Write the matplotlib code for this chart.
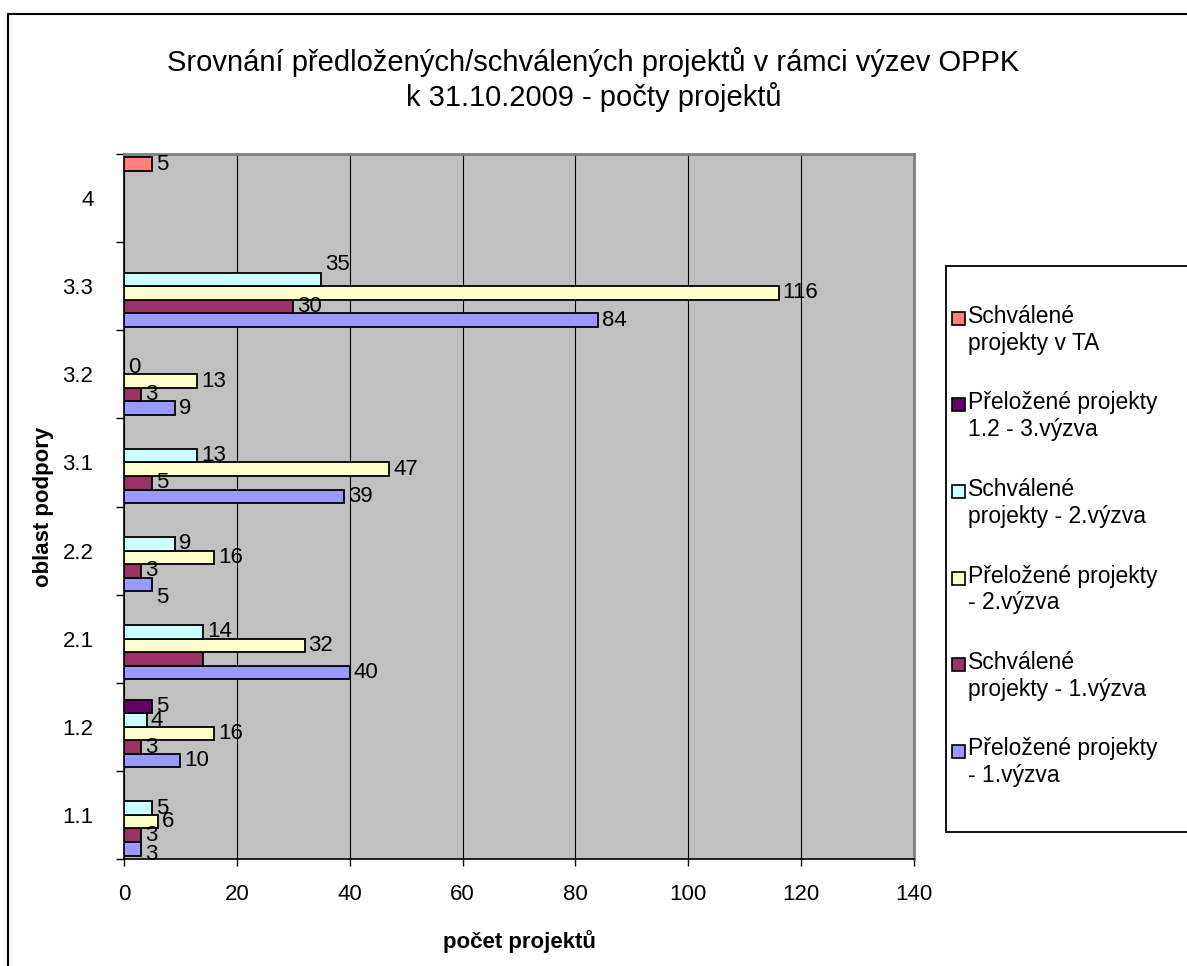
import matplotlib
matplotlib.use('Agg')
import matplotlib.pyplot as plt
from matplotlib.patches import Rectangle

plt.rcParams['font.family'] = ['Liberation Sans', 'DejaVu Sans']

########## data ################################################################

oblasti = ['1.1', '1.2', '2.1', '2.2', '3.1', '3.2', '3.3', '4']

predlozene_1 = [3, 10, 40, 5, 39, 9, 84, None]
schvalene_1 = [3, 3, 14, 3, 5, 3, 30, None]
predlozene_2 = [6, 16, 32, 16, 47, 13, 116, None]
schvalene_2 = [5, 4, 14, 9, 13, 0, 35, None]
predlozene_3 = [None, 5, None, None, None, None, None, None]
schvalene_ta = [None, None, None, None, None, None, None, 5]

rady = [predlozene_1, schvalene_1, predlozene_2, schvalene_2, predlozene_3, schvalene_ta]
nazvy = ['Přeložené projekty\n- 1.výzva',
         'Schválené\nprojekty - 1.výzva',
         'Přeložené projekty\n- 2.výzva',
         'Schválené\nprojekty - 2.výzva',
         'Přeložené projekty\n1.2 - 3.výzva',
         'Schválené\nprojekty v TA']
barvy = ['#9999FF', '#993366', '#FFFFCC', '#CCFFFF', '#660066', '#FF8080']

# rucne posunute popisky (rada, oblast): (dx, dy) v pixelech, None = skryty
posuny = {(3, 6): (0, 15), (0, 3): (0, -13), (0, 0): (0, -6), (1, 2): None}

########## graf ################################################################

W, H = 1187, 966
fig = plt.figure(figsize=(W / 100, H / 100), dpi=100)
ax = fig.add_axes([124 / W, 1 - 859 / H, (914 - 124) / W, (859 - 154) / H])
ax.set_facecolor('#C0C0C0')

n = len(rady)
vyska = 1 / (n + 0.5)
fs = 16
px = 0.72  # 1 px v bodech pri dpi 100

for i, rada in enumerate(rady):
    for k, hodnota in enumerate(rada):
        if hodnota is None:
            continue
        y = k + (i - (n - 1) / 2) * vyska
        ax.barh(y, hodnota, height=vyska, color=barvy[i], edgecolor='black',
                linewidth=1.3, zorder=3)
        posun = posuny.get((i, k), (0, 0))
        if posun is None:
            continue
        ax.annotate(str(hodnota), (hodnota, y),
                    xytext=(4 * px + posun[0] * px, posun[1] * px),
                    textcoords='offset points', ha='left', va='center',
                    fontsize=fs, zorder=4)

ax.set_xlim(0, 140)
ax.set_ylim(-0.5, len(oblasti) - 0.5)
ax.set_xticks(range(0, 141, 20))
ax.tick_params(axis='x', direction='out', length=5, width=1, labelsize=fs, pad=13)

# carky mezi oblastmi, popisky uprostred
ax.set_yticks([k + 0.5 for k in range(-1, len(oblasti))])
ax.set_yticklabels([])
ax.set_yticks(range(len(oblasti)), minor=True)
ax.set_yticklabels(oblasti, minor=True, fontsize=fs)
ax.tick_params(axis='y', which='major', direction='out', length=6, width=1)
ax.tick_params(axis='y', which='minor', length=0, pad=22)

ax.grid(axis='x', color='black', linewidth=0.8, zorder=1)
ax.set_axisbelow(True)
for s in ['top', 'right']:
    ax.spines[s].set_color('#808080')
    ax.spines[s].set_linewidth(2)
for s in ['left', 'bottom']:
    ax.spines[s].set_color('black')
    ax.spines[s].set_linewidth(1.2)

ax.set_xlabel('počet projektů', fontsize=fs, fontweight='bold', labelpad=18)
ax.set_ylabel('oblast podpory', fontsize=fs, fontweight='bold', labelpad=6)

fig.text(0.5, 1 - 62 / H, 'Srovnání předložených/schválených projektů v rámci výzev OPPK',
         ha='center', va='center', fontsize=21)
fig.text(0.5, 1 - 97 / H, 'k 31.10.2009 - počty projektů',
         ha='center', va='center', fontsize=21)

# legenda - kreslena rucne, presahuje pravy okraj obrazku
leg_x, leg_top, leg_bottom = 946, 266, 832
fig.add_artist(Rectangle((leg_x / W, 1 - leg_bottom / H), 0.4, (leg_bottom - leg_top) / H,
                         transform=fig.transFigure, facecolor='white',
                         edgecolor='black', linewidth=1.3))
krok = 86.5
for j, i in enumerate(range(n - 1, -1, -1)):
    y0 = 318 + j * krok
    fig.add_artist(Rectangle(((leg_x + 6) / W, 1 - (y0 + 7) / H), 13 / W, 13 / H,
                             transform=fig.transFigure, facecolor=barvy[i],
                             edgecolor='black', linewidth=1.2))
    fig.text((leg_x + 22) / W, 1 - (y0 - 13) / H, nazvy[i], ha='left', va='top',
             fontsize=16.5, linespacing=1.2)

# okraj kolem celeho grafu
fig.add_artist(Rectangle((8 / W, -0.1), 1.2, 1 - 14 / H + 0.1, transform=fig.transFigure,
                         fill=False, edgecolor='black', linewidth=1.5))

plt.savefig('out.png', dpi=100)
